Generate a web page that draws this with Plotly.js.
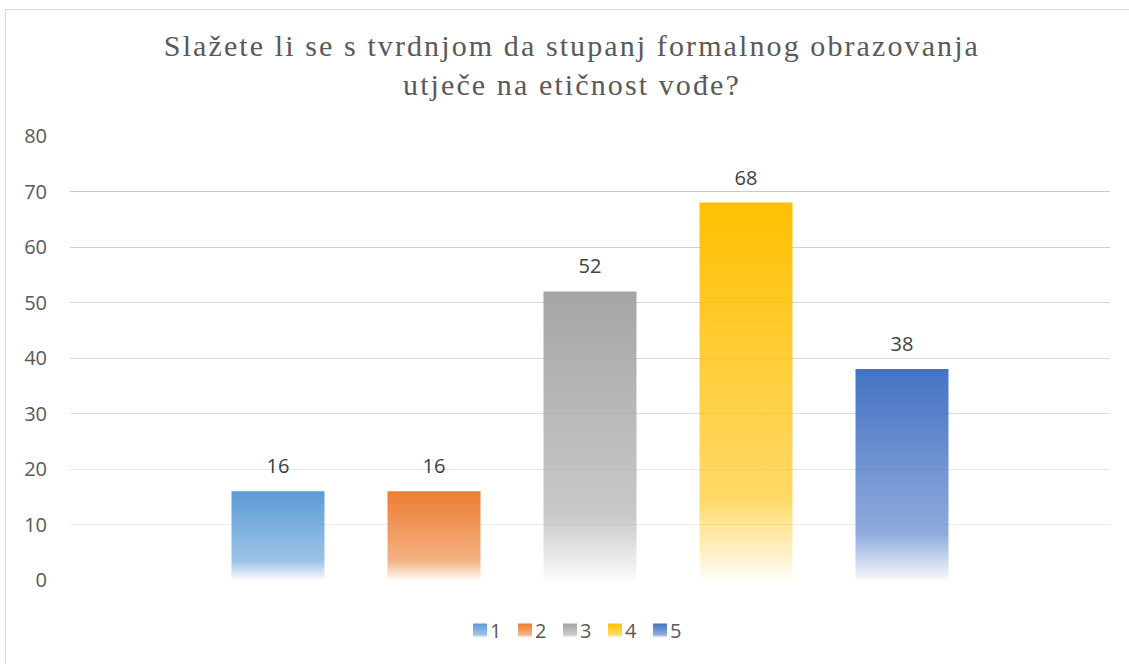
<!DOCTYPE html>
<html>
<head>
<meta charset="utf-8">
<script src="https://cdn.plot.ly/plotly-3.0.1.min.js"></script>
<style>
  html, body { margin: 0; padding: 0; background: #fff; overflow: hidden; }
  #frame { position: absolute; left: 5px; top: 9px; width: 1140px; height: 670px; border: 1px solid #d9d9d9; box-sizing: border-box; }
  #chart { position: absolute; left: 0; top: 0; width: 1129px; height: 664px; }
</style>
</head>
<body>
<div id="frame"></div>
<div id="chart"></div>
<script>
const titleText = "Slažete li se s tvrdnjom da stupanj formalnog obrazovanja<br>utječe na etičnost vođe?";
const category = ["Odgovor"];
const seriesNames = ["1", "2", "3", "4", "5"];
const seriesValues = [16, 16, 52, 68, 38];
const seriesColors = ["#5B9BD5", "#ED7D31", "#A5A5A5", "#FFC000", "#4472C4"];
const yTicks = [0, 10, 20, 30, 40, 50, 60, 70, 80];

const labelFont = "Open Sans, sans-serif";

const data = seriesNames.map((n, i) => ({
  type: "bar",
  name: n,
  x: category,
  y: [seriesValues[i]],
  text: [String(seriesValues[i])],
  textposition: "outside",
  textfont: { family: labelFont, size: 20, color: "#404040" },
  cliponaxis: false,
  marker: { color: seriesColors[i], line: { width: 0 } },
  hoverinfo: "skip"
}));

const layout = {
  width: 1129,
  height: 664,
  paper_bgcolor: "rgba(0,0,0,0)",
  plot_bgcolor: "rgba(0,0,0,0)",
  margin: { l: 70, r: 19, t: 136, b: 84 },
  title: {
    text: titleText,
    font: { family: "Liberation Serif", size: 30, color: "#595959" },
    x: 0.5066, xanchor: "center", xref: "container",
    y: 0.915, yanchor: "top", yref: "container"
  },
  barmode: "group",
  bargap: 0.25,
  bargroupgap: 0.404,
  showlegend: true,
  legend: {
    orientation: "h",
    x: 0.5, xanchor: "center", xref: "paper",
    y: -0.07, yanchor: "top",
    font: { family: labelFont, size: 20, color: "#595959" },
    itemwidth: 30,
    traceorder: "normal"
  },
  xaxis: {
    type: "category",
    showticklabels: false,
    showgrid: false,
    zeroline: false,
    showline: false,
    ticks: ""
  },
  yaxis: {
    range: [0, 80],
    tickvals: yTicks,
    ticktext: yTicks.map(String),
    showgrid: true,
    gridcolor: "#d4d4d4",
    gridwidth: 1,
    zeroline: false,
    showline: false,
    ticks: "",
    ticklabelstandoff: 22,
    tickfont: { family: labelFont, size: 20, color: "#595959" }
  }
};

Plotly.newPlot("chart", data, layout, { displayModeBar: false, staticPlot: true }).then(gd => {
  const svg = gd.querySelector("svg.main-svg");
  const NS = "http://www.w3.org/2000/svg";
  let defs = svg.querySelector("defs");
  if (!defs) { defs = document.createElementNS(NS, "defs"); svg.insertBefore(defs, svg.firstChild); }
  seriesColors.forEach((c, i) => {
    const g = document.createElementNS(NS, "linearGradient");
    g.setAttribute("id", "barGrad" + i);
    g.setAttribute("x1", "0"); g.setAttribute("y1", "0");
    g.setAttribute("x2", "0"); g.setAttribute("y2", "1");
    const stops = [[0, 1], [0.78, 0.6], [1, 0.04]];
    stops.forEach(([o, a]) => {
      const s = document.createElementNS(NS, "stop");
      s.setAttribute("offset", o);
      s.setAttribute("stop-color", c);
      s.setAttribute("stop-opacity", a);
      g.appendChild(s);
    });
    defs.appendChild(g);
  });
  gd.querySelectorAll(".barlayer .trace").forEach((t, i) => {
    t.querySelectorAll("path").forEach(p => { p.style.fill = "url(#barGrad" + i + ")"; });
    t.querySelectorAll("text.bartext").forEach(tx => {
      const tr = tx.getAttribute("transform") || "";
      tx.setAttribute("transform", "translate(0,-9) " + tr);
    });
  });
  const legendTraces = Array.from(gd.querySelectorAll(".legend .traces"));
  legendTraces.forEach((t, i) => {
    t.querySelectorAll(".legendpoints path").forEach(p => {
      p.style.fill = "url(#barGrad" + i + ")"; p.style.stroke = "none";
      p.setAttribute("d", "M17,7H3V-7H17Z");
    });
  });
  // compact legend spacing like Excel
  if (legendTraces.length) {
    const parse = el => {
      const m = /translate\(\s*([-\d.]+)[ ,]+([-\d.]+)\s*\)/.exec(el.getAttribute("transform") || "");
      return m ? [parseFloat(m[1]), parseFloat(m[2])] : [0, 0];
    };
    const firstPath = legendTraces[0].querySelector(".legendpoints path");
    const curLeft = firstPath ? firstPath.getBoundingClientRect().left : 0;
    const [x0, y0] = parse(legendTraces[0]);
    const delta = firstPath ? (473 - curLeft) : 0;
    legendTraces.forEach((t, k) => {
      const [, yk] = parse(t);
      t.setAttribute("transform", "translate(" + (x0 + delta + 45 * k) + "," + yk + ")");
    });
  }
  // Excel-style gridlines: darker at top, lighter at bottom
  gd.querySelectorAll(".gridlayer .ygrid path, .gridlayer .y path").forEach((p, k, all) => {
    const n = all.length;
    const f = n > 1 ? k / (n - 1) : 0;
    const v = Math.round(236 - 36 * f);
    p.style.stroke = "rgb(" + v + "," + v + "," + v + ")";
  });
  const tt = gd.querySelector(".gtitle");
  if (tt) tt.style.letterSpacing = "2.1px";
});
</script>
</body>
</html>
